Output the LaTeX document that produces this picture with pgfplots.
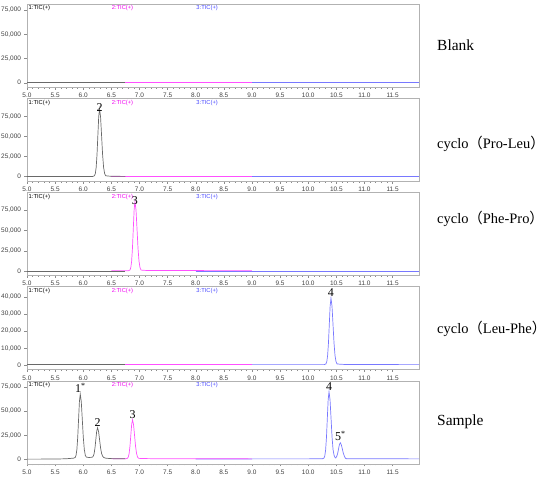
\documentclass[border=0pt]{standalone}
\usepackage{fontspec}
\setmainfont{Liberation Serif}
\setsansfont{Liberation Sans}
\newfontfamily\cjk{Noto Sans CJK SC}
\usepackage{pgfplots}
\pgfplotsset{compat=1.18}

\definecolor{tic1}{RGB}{105,105,105}
\definecolor{tic2}{RGB}{255,80,255}
\definecolor{tic3}{RGB}{120,120,255}
\definecolor{lab2}{RGB}{240,0,240}
\definecolor{lab3}{RGB}{70,70,255}

\pgfplotsset{
  panel/.style={
    scale only axis, width=392bp, height=83bp,
    anchor=north west,
    xmin=5, xmax=11.97,
    axis line style={black!30},
    tick align=outside, tick pos=left,
    major tick length=2.5bp, minor tick length=1.5bp,
    tick style={black!45, line width=0.4pt},
    xtick={5,5.5,...,11.5},
    minor x tick num=4,
    xticklabel style={/pgf/number format/fixed, /pgf/number format/fixed zerofill, /pgf/number format/precision=1},
    scaled y ticks=false,
    yticklabel style={/pgf/number format/1000 sep={,}},
    ticklabel style={font=\fontsize{6.5}{6.5}\sffamily, text=black!75},
    /pgf/number format/assume math mode=true,
    clip mode=individual,
    every axis plot/.append style={line width=0.7pt, mark=none},
  },
}
\tikzset{
  peak/.style={anchor=south, inner sep=0pt, font=\fontsize{12}{12}\selectfont},
  sidelabel/.style={anchor=base west, inner sep=0pt, font=\fontsize{15.5}{15.5}\selectfont},
  cyclolabel/.style={anchor=base west, inner sep=0pt, font=\fontsize{14.5}{14.5}\selectfont},
}
\newcommand{\ticlabels}{%
  \node[anchor=north west, inner sep=1.5bp, font=\fontsize{5.8}{5.8}\sffamily] at (rel axis cs:0,1) {1:TIC(+)};
  \node[anchor=north west, inner sep=1.5bp, font=\fontsize{5.8}{5.8}\sffamily, text=lab2] at (rel axis cs:0.212,1) {2:TIC(+)};
  \node[anchor=north west, inner sep=1.5bp, font=\fontsize{5.8}{5.8}\sffamily, text=lab3] at (rel axis cs:0.428,1) {3:TIC(+)};
}

\begin{document}
\begin{tikzpicture}
\path[use as bounding box] (-27bp,4bp) rectangle (523bp,-474bp);

% Blank
\begin{axis}[panel, at={(0,0)}, ymin=-4400, ymax=81300, ytick={0,25000,50000,75000}]
\addplot[tic3] coordinates {(8.0,300) (11.97,300)};
\addplot[tic2] coordinates {(6.5,350) (9.0,350)};
\addplot[tic1] coordinates {(5.0,300) (6.75,300)};
\ticlabels
\end{axis}

% cyclo (Pro-Leu)
\begin{axis}[panel, at={(0,-94.2bp)}, ymin=-5600, ymax=97600, ytick={0,25000,50000,75000}]
\addplot[tic3] coordinates {(8.0,300) (11.97,300)};
\addplot[tic2] coordinates {(6.5,500) (9.0,500)};
\addplot[tic1] coordinates {
  (5.0,300) (6.0,300) (6.17,330) (6.20,1230) (6.215,3990) (6.23,11670)
  (6.245,27580) (6.26,51250) (6.275,74430) (6.29,84300) (6.308,74430)
  (6.326,51250) (6.344,27580) (6.362,11670) (6.38,3990) (6.398,1230)
  (6.43,900) (6.5,500) (6.75,400)};
\ticlabels
\node[peak, yshift=-3bp] at (axis cs:6.29,84300) {2};
\end{axis}

% cyclo (Phe-Pro)
\begin{axis}[panel, at={(0,-188.4bp)}, ymin=-5200, ymax=96600, ytick={0,25000,50000,75000}]
\addplot[tic3] coordinates {(8.0,300) (11.97,300)};
\addplot[tic2] coordinates {
  (6.5,400) (6.80,425) (6.83,1340) (6.845,4130) (6.86,11900) (6.875,28000)
  (6.89,51950) (6.905,75410) (6.92,85400) (6.938,75410) (6.956,51950)
  (6.974,28000) (6.992,11900) (7.01,4130) (7.028,1340) (7.06,1100)
  (7.15,800) (9.0,600)};
\addplot[tic1] coordinates {(5.0,300) (6.75,300)};
\ticlabels
\node[peak, yshift=-3bp] at (axis cs:6.92,85400) {3};
\end{axis}

% cyclo (Leu-Phe)
\begin{axis}[panel, at={(0,-282.6bp)}, ymin=-2500, ymax=46000, ytick={0,10000,20000,30000,40000}]
\addplot[tic3] coordinates {
  (8.0,400) (10.285,410) (10.315,830) (10.33,2100) (10.345,5650) (10.36,13000)
  (10.375,23930) (10.39,34640) (10.405,39200) (10.423,34640) (10.441,23930)
  (10.459,13000) (10.477,5650) (10.495,2100) (10.513,830) (10.55,700)
  (10.65,500) (11.97,400)};
\addplot[tic2] coordinates {(6.5,300) (9.0,300)};
\addplot[tic1] coordinates {(5.0,300) (6.75,300)};
\ticlabels
\node[peak, yshift=1.5bp] at (axis cs:10.405,39200) {4};
\end{axis}

% Sample
\begin{axis}[panel, at={(0,-376.8bp)}, ymin=-4300, ymax=81300, ytick={0,25000,50000,75000}]
\addplot[tic3] coordinates {
  (8.0,700) (10.25,820) (10.28,1570) (10.295,3840) (10.31,10160) (10.325,23270)
  (10.34,42770) (10.355,61870) (10.37,70000) (10.388,61870) (10.406,42770)
  (10.424,23270) (10.442,10160) (10.46,4500) (10.475,2400) (10.49,1700)
  (10.51,3740) (10.525,6730) (10.54,11180) (10.555,15540) (10.57,17400)
  (10.588,15540) (10.606,11180) (10.624,6730) (10.642,3740) (10.66,1500)
  (10.678,1000) (10.75,850) (11.97,800)};
\addplot[tic2] coordinates {
  (6.5,900) (6.756,910) (6.786,1345) (6.801,2660) (6.816,6325) (6.831,13920)
  (6.846,25220) (6.861,36290) (6.876,41000) (6.894,36290) (6.912,25220)
  (6.930,13920) (6.948,6325) (6.966,2660) (6.984,1345) (7.02,1200)
  (7.2,1000) (9.0,800)};
\addplot[tic1] coordinates {
  (5.0,500) (5.5,600) (5.70,900) (5.80,1400) (5.827,1520) (5.857,2230)
  (5.872,4400) (5.887,10440) (5.902,22960) (5.917,41590) (5.932,59830)
  (5.947,67600) (5.965,59830) (5.983,41590) (6.001,22960) (6.019,10440)
  (6.037,4400) (6.055,2600) (6.09,2300) (6.12,2300) (6.134,2310) (6.164,2640)
  (6.179,3640) (6.194,6430) (6.209,12200) (6.224,20800) (6.239,29220)
  (6.254,32800) (6.272,29220) (6.29,20800) (6.308,12200) (6.326,6430)
  (6.344,3640) (6.362,2300) (6.40,1500) (6.48,1100) (6.6,900) (6.75,800)};
\ticlabels
\node[peak, yshift=1.5bp] at (axis cs:5.947,67600) {1\textsuperscript{*}};
\node[peak, yshift=1bp] at (axis cs:6.254,32800) {2};
\node[peak, yshift=1.5bp] at (axis cs:6.876,41000) {3};
\node[peak, yshift=1.5bp] at (axis cs:10.37,70000) {4};
\node[peak, yshift=2bp] at (axis cs:10.57,17400) {5\textsuperscript{*}};
\end{axis}

\node[sidelabel] at (410bp,-46bp) {Blank};
\node[cyclolabel] at (410bp,-144.3bp) {cyclo{\cjk （}Pro-Leu{\cjk ）}};
\node[cyclolabel] at (410bp,-219.3bp) {cyclo{\cjk （}Phe-Pro{\cjk ）}};
\node[cyclolabel] at (410bp,-329bp) {cyclo{\cjk （}Leu-Phe{\cjk ）}};
\node[sidelabel] at (410bp,-421.7bp) {Sample};
\end{tikzpicture}
\end{document}
